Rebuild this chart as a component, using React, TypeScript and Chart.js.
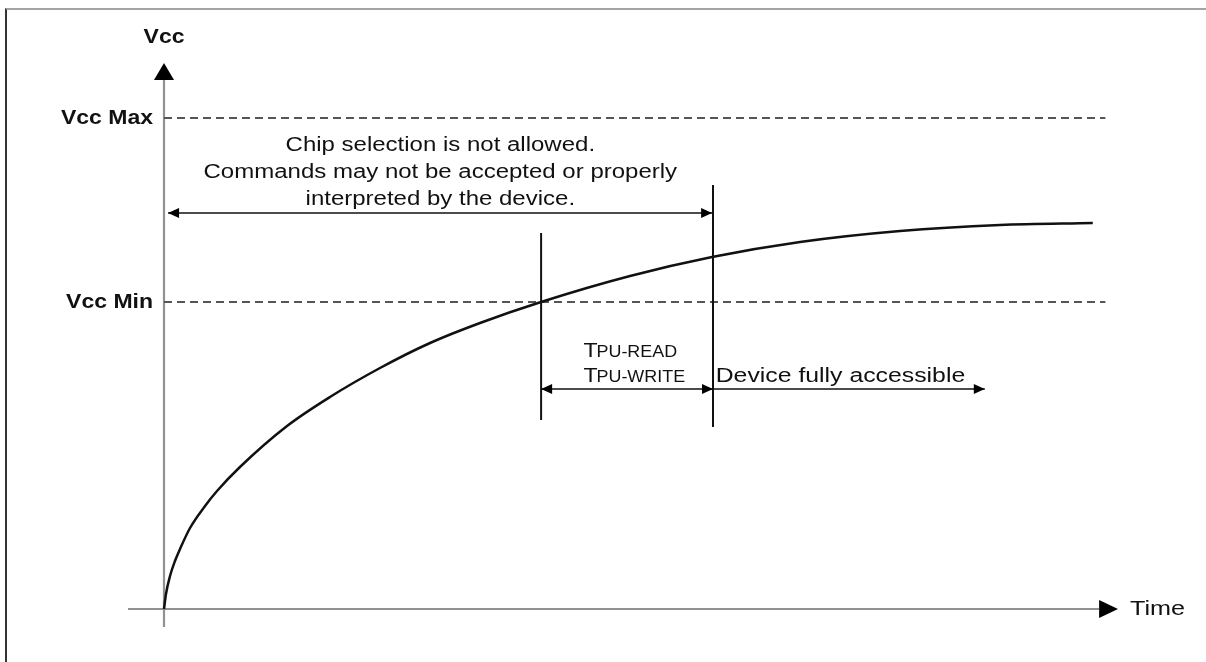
import React, { useEffect, useRef } from "react";
import { Chart, registerables } from "chart.js";

Chart.register(...registerables);

// ---- Data (time in arbitrary units, Vcc in arbitrary units) ----
const timeValues = [0, 0.22, 0.67, 1.22, 1.78, 2.89, 4.56, 5.89, 8.44, 13.67, 18.44, 24.0, 29.56, 35.11, 41.89, 51.78, 60.89, 70.67, 81.78, 92.89, 103.2];
const vccValues = [0, 1.5, 3.3, 4.8, 6.0, 8.1, 10.3, 11.8, 14.2, 18.3, 21.2, 24.1, 26.6, 28.6, 30.7, 33.3, 35.2, 36.7, 37.8, 38.4, 38.6];

const vccLevelLabels = ["Vcc Max", "Vcc Min"];
const vccLevelValues = [49.1, 30.7];
const levelLineEnd = 104.6;

const markerTimes = [41.9, 61.0]; // tPU start (Vcc Min reached), tPU end
const markerTop = [37.6, 42.4];
const markerBottom = [18.9, 18.2];

const notAllowedLines = [
  "Chip selection is not allowed.",
  "Commands may not be accepted or properly",
  "interpreted by the device.",
];
const notAllowedLineVcc = [46.4, 43.7, 41.0];
const notAllowedCenterTime = 30.7;
const notAllowedArrow = { from: 0.45, to: 60.9, vcc: 39.6 };

const tpuLabels = [
  ["T", "PU-READ"],
  ["T", "PU-WRITE"],
];
const tpuLabelTime = 46.6;
const tpuLabelVcc = [25.2, 22.7];
const tpuArrowVcc = 22.0;
const accessibleLabel = "Device fully accessible";
const accessibleLabelTime = 61.3;
const accessibleArrowEnd = 91.2;

const yAxisTitle = "Vcc";
const xAxisTitle = "Time";
const xAxisRange = [-4, 106];
const yAxisRange = [-1.8, 54.6];
const yAxisTitleVcc = 57.2;
const yArrowBase = 52.9;
const xArrowBase = 103.9;

const FONT = "'Liberation Sans', Arial, Helvetica, sans-serif";
const STRETCH = 1.2;

function stretchedText(
  ctx: CanvasRenderingContext2D,
  text: string,
  x: number,
  y: number,
  align: CanvasTextAlign,
  font: string,
  baseline: CanvasTextBaseline = "middle",
  sx = STRETCH
) {
  ctx.save();
  ctx.translate(x, y);
  ctx.scale(sx, 1);
  ctx.font = font;
  ctx.textAlign = align;
  ctx.textBaseline = baseline;
  ctx.fillStyle = "#111";
  ctx.fillText(text, 0, 0);
  ctx.restore();
}

function arrowHead(
  ctx: CanvasRenderingContext2D,
  tipX: number,
  tipY: number,
  dir: "left" | "right" | "up",
  len: number,
  half: number
) {
  ctx.save();
  ctx.fillStyle = "#000";
  ctx.beginPath();
  if (dir === "right") {
    ctx.moveTo(tipX, tipY);
    ctx.lineTo(tipX - len, tipY - half);
    ctx.lineTo(tipX - len, tipY + half);
  } else if (dir === "left") {
    ctx.moveTo(tipX, tipY);
    ctx.lineTo(tipX + len, tipY - half);
    ctx.lineTo(tipX + len, tipY + half);
  } else {
    ctx.moveTo(tipX, tipY);
    ctx.lineTo(tipX - half, tipY + len);
    ctx.lineTo(tipX + half, tipY + len);
  }
  ctx.closePath();
  ctx.fill();
  ctx.restore();
}

function line(ctx: CanvasRenderingContext2D, x1: number, y1: number, x2: number, y2: number, color: string, w: number, dash: number[] = []) {
  ctx.save();
  ctx.strokeStyle = color;
  ctx.lineWidth = w;
  ctx.setLineDash(dash);
  ctx.beginPath();
  ctx.moveTo(x1, y1);
  ctx.lineTo(x2, y2);
  ctx.stroke();
  ctx.restore();
}

const diagramPlugin = {
  id: "diagram",
  beforeDatasetsDraw(chart: any) {
    const ctx: CanvasRenderingContext2D = chart.ctx;
    const xs = chart.scales.x;
    const ys = chart.scales.y;
    const X = (v: number) => xs.getPixelForValue(v);
    const Y = (v: number) => ys.getPixelForValue(v);

    // axes
    line(ctx, X(0), Y(yAxisRange[0]), X(0), Y(yArrowBase), "#929292", 2.2);
    line(ctx, X(xAxisRange[0]), Y(0), X(xArrowBase), Y(0), "#929292", 2);
    arrowHead(ctx, X(0), Y(yAxisRange[1]), "up", Y(yArrowBase) - Y(yAxisRange[1]), 10);
    arrowHead(ctx, X(xAxisRange[1]), Y(0), "right", X(xAxisRange[1]) - X(xArrowBase), 9);

    // level lines
    vccLevelValues.forEach((v, i) => {
      line(ctx, X(0), Y(v), X(levelLineEnd), Y(v), "#555", 1.8, [8, 5]);
      stretchedText(ctx, vccLevelLabels[i], X(0) - 11, Y(v), "right", `bold 20px ${FONT}`, "middle", 1.15);
    });

    // markers
    markerTimes.forEach((t, i) => {
      line(ctx, X(t), Y(markerTop[i]), X(t), Y(markerBottom[i]), "#111", 2);
    });
  },
  afterDatasetsDraw(chart: any) {
    const ctx: CanvasRenderingContext2D = chart.ctx;
    const xs = chart.scales.x;
    const ys = chart.scales.y;
    const X = (v: number) => xs.getPixelForValue(v);
    const Y = (v: number) => ys.getPixelForValue(v);

    // axis titles
    stretchedText(ctx, yAxisTitle, X(0), Y(yAxisTitleVcc), "center", `bold 20px ${FONT}`, "middle", 1.15);
    stretchedText(ctx, xAxisTitle, X(xAxisRange[1]) + 12, Y(0), "left", `21px ${FONT}`);

    // not allowed region
    notAllowedLines.forEach((txt, i) => {
      stretchedText(ctx, txt, X(notAllowedCenterTime), Y(notAllowedLineVcc[i]), "center", `20px ${FONT}`);
    });
    const ay = Y(notAllowedArrow.vcc);
    line(ctx, X(notAllowedArrow.from), ay, X(notAllowedArrow.to), ay, "#111", 1.6);
    arrowHead(ctx, X(notAllowedArrow.from), ay, "left", 11, 5);
    arrowHead(ctx, X(notAllowedArrow.to), ay, "right", 11, 5);

    // tPU labels
    tpuLabels.forEach((parts, i) => {
      const bx = X(tpuLabelTime);
      const by = Y(tpuLabelVcc[i]);
      ctx.save();
      ctx.font = `21px ${FONT}`;
      const tw = ctx.measureText(parts[0]).width * 1.1;
      ctx.restore();
      stretchedText(ctx, parts[0], bx, by, "left", `21px ${FONT}`, "alphabetic", 1.1);
      stretchedText(ctx, parts[1], bx + tw - 1, by, "left", `16px ${FONT}`, "alphabetic", 1.12);
    });
    const ty = Y(tpuArrowVcc);
    line(ctx, X(markerTimes[0]), ty, X(accessibleArrowEnd), ty, "#111", 1.6);
    arrowHead(ctx, X(markerTimes[0]), ty, "left", 11, 5);
    arrowHead(ctx, X(markerTimes[1]), ty, "right", 11, 5);
    arrowHead(ctx, X(accessibleArrowEnd), ty, "right", 11, 5);
    stretchedText(ctx, accessibleLabel, X(accessibleLabelTime), Y(tpuLabelVcc[1]), "left", `20px ${FONT}`, "alphabetic", 1.24);
  },
};

export default function App() {
  const canvasRef = useRef<HTMLCanvasElement | null>(null);

  useEffect(() => {
    const canvas = canvasRef.current;
    if (!canvas) return;
    const chart = new Chart(canvas, {
      type: "line",
      data: {
        datasets: [
          {
            data: timeValues.map((t, i) => ({ x: t, y: vccValues[i] })),
            borderColor: "#111",
            borderWidth: 2.5,
            pointRadius: 0,
            cubicInterpolationMode: "monotone",
            clip: false as any,
          },
        ],
      },
      options: {
        responsive: false,
        maintainAspectRatio: false,
        animation: false,
        devicePixelRatio: 1,
        layout: { padding: { left: 128, right: 88, top: 63, bottom: 35 } },
        scales: {
          x: { type: "linear", min: xAxisRange[0], max: xAxisRange[1], display: false },
          y: { type: "linear", min: yAxisRange[0], max: yAxisRange[1], display: false },
        },
        plugins: { legend: { display: false }, tooltip: { enabled: false } },
      },
      plugins: [diagramPlugin],
    });
    return () => chart.destroy();
  }, []);

  return (
    <div style={{ position: "fixed", left: 0, top: 0, width: 1206, height: 662, overflow: "hidden", background: "#fff" }}>
      <div
        style={{
          position: "absolute",
          left: 5,
          top: 8,
          width: 1300,
          height: 700,
          borderTop: "2px solid #a3a3a3",
          borderLeft: "2px solid #333",
        }}
      />
      <canvas ref={canvasRef} width={1206} height={662} style={{ position: "absolute", left: 0, top: 0, width: 1206, height: 662 }} />
    </div>
  );
}
